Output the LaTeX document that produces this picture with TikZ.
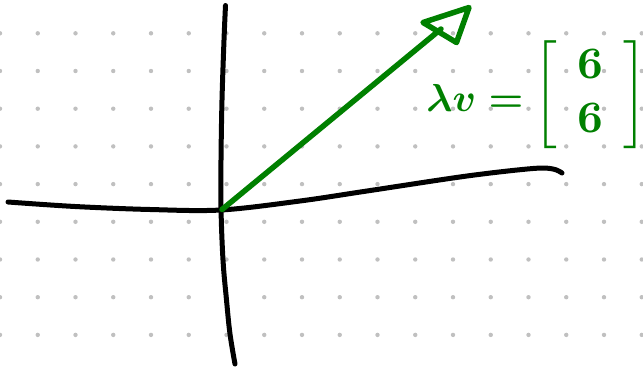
\documentclass[tikz,border=0pt]{standalone}
\usepackage{amsmath}
\definecolor{pen}{RGB}{0,128,0}
\definecolor{dotgray}{RGB}{192,192,192}
\tikzset{
  axis/.style={line width=5pt, line cap=round, line join=round, black},
  vec/.style={line width=5.5pt, line cap=round, line join=round, pen},
  griddot/.style={fill=dotgray, draw=none},
  lbl/.style={text=pen, inner sep=0pt}
}
\begin{document}
\begin{tikzpicture}[x=1pt,y=-1pt]
\useasboundingbox[fill=white] (0,0) rectangle (643,370);
% dot grid
\foreach \i in {0,...,17}{
  \foreach \j in {0,...,8}{
    \fill[griddot] ({\i*37.75},{33.3+\j*37.7}) circle (2.2pt);
  }
}
% axes
\draw[axis] plot[smooth, tension=0.6] coordinates {(225.5,5.5) (224,40) (222,100) (221,160) (221,208) (223,260) (226.5,300) (230,334) (235,364)};
\draw[axis] plot[smooth, tension=0.55] coordinates {(8,202) (75,206.5) (150,209.5) (221,210) (300,201) (367,191) (467,176) (533,168.5) (553,169) (562,173)};
% vector
\coordinate (O) at (222,209.5);
\coordinate (B) at (441,29);
\coordinate (L) at (423,22.5);
\coordinate (T) at (469,7.5);
\coordinate (R) at (456.5,42.5);
\draw[vec] (O) -- (B);
\draw[vec] (L) -- (T) -- (R) -- cycle;
% label
\node[lbl] (lam) at (475,98) {\scalebox{3.9}{\boldmath$\lambda v=$}};
\node[lbl] (mat) at (590,95) {\scalebox{4.5}{\boldmath$\left[\hspace{4.5pt}\begin{matrix}6\\6\end{matrix}\hspace{4.5pt}\right]$}};
\end{tikzpicture}
\end{document}
